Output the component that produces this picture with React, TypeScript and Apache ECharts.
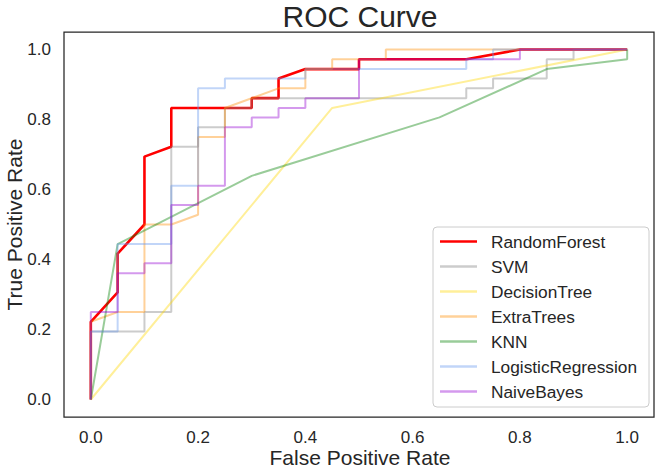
import React, { useEffect, useRef } from "react";
import * as echarts from "echarts";

// ROC data (FPR on x, TPR on y)
const rfFpr = [0, 0, 0.05, 0.05, 0.1, 0.1, 0.15, 0.15, 0.3, 0.3, 0.35, 0.35, 0.4, 0.5, 0.5, 0.7, 0.8, 1.0];
const rfTpr = [0, 0.222, 0.306, 0.417, 0.5, 0.694, 0.722, 0.833, 0.833, 0.861, 0.861, 0.917, 0.944, 0.944, 0.972, 0.972, 1.0, 1.0];

const svmFpr = [0, 0, 0.1, 0.1, 0.15, 0.15, 0.2, 0.2, 0.25, 0.25, 0.3, 0.3, 0.7, 0.7, 0.75, 0.75, 0.85, 0.85, 0.9, 0.9, 1.0];
const svmTpr = [0, 0.194, 0.194, 0.25, 0.25, 0.722, 0.722, 0.778, 0.778, 0.833, 0.833, 0.861, 0.861, 0.889, 0.889, 0.917, 0.917, 0.972, 0.972, 1.0, 1.0];

const dtFpr = [0, 0.45, 1.0];
const dtTpr = [0, 0.833, 1.0];

const etFpr = [0, 0, 0.05, 0.1, 0.1, 0.15, 0.2, 0.2, 0.25, 0.25, 0.35, 0.4, 0.4, 0.45, 0.45, 0.55, 0.55, 1.0];
const etTpr = [0, 0.222, 0.25, 0.25, 0.5, 0.5, 0.528, 0.75, 0.75, 0.833, 0.889, 0.889, 0.944, 0.944, 0.972, 0.972, 1.0, 1.0];

const knnFpr = [0, 0.05, 0.3, 0.65, 0.85, 1.0, 1.0];
const knnTpr = [0, 0.444, 0.639, 0.806, 0.944, 0.972, 1.0];

const lrFpr = [0, 0, 0.05, 0.05, 0.15, 0.15, 0.2, 0.2, 0.25, 0.25, 0.4, 0.4, 0.7, 0.7, 0.75, 0.75, 1.0];
const lrTpr = [0, 0.194, 0.194, 0.444, 0.444, 0.611, 0.611, 0.889, 0.889, 0.917, 0.917, 0.944, 0.944, 0.972, 0.972, 1.0, 1.0];

const nbFpr = [0, 0, 0.05, 0.05, 0.1, 0.1, 0.15, 0.15, 0.2, 0.2, 0.25, 0.25, 0.3, 0.3, 0.35, 0.35, 0.4, 0.4, 0.5, 0.5, 0.8, 0.8, 1.0];
const nbTpr = [0, 0.25, 0.25, 0.361, 0.361, 0.389, 0.389, 0.556, 0.556, 0.611, 0.611, 0.778, 0.778, 0.806, 0.806, 0.833, 0.833, 0.861, 0.861, 0.972, 0.972, 1.0, 1.0];

const modelNames = ["RandomForest", "SVM", "DecisionTree", "ExtraTrees", "KNN", "LogisticRegression", "NaiveBayes"];
const fprList = [rfFpr, svmFpr, dtFpr, etFpr, knnFpr, lrFpr, nbFpr];
const tprList = [rfTpr, svmTpr, dtTpr, etTpr, knnTpr, lrTpr, nbTpr];
const colors = [
  "rgba(255,0,0,1)",
  "rgba(128,128,128,0.4)",
  "rgba(255,215,0,0.4)",
  "rgba(255,140,0,0.4)",
  "rgba(0,128,0,0.4)",
  "rgba(100,149,237,0.4)",
  "rgba(148,0,211,0.4)",
];
const widths = [2.6, 2, 2, 2, 2, 2, 2];

const FONT = "'Liberation Sans', Arial, sans-serif";
const INK = "#262626";

export default function App() {
  const ref = useRef<HTMLDivElement>(null);

  useEffect(() => {
    document.body.style.margin = "0";
    if (!ref.current) return;
    const chart = echarts.init(ref.current, undefined, { renderer: "svg" });

    const fmt = (v: number) => {
      const r = Math.round(v * 100);
      if (r >= 0 && r <= 100 && r % 20 === 0) return (r / 100).toFixed(1);
      return "";
    };

    const series = modelNames.map((name, i) => ({
      name,
      type: "line",
      showSymbol: false,
      symbol: "none",
      data: fprList[i].map((x, j) => [x, tprList[i][j]]),
      lineStyle: { color: colors[i], width: widths[i] },
      itemStyle: { color: colors[i] },
      emphasis: { disabled: true },
      z: 2 + i,
    }));

    chart.setOption({
      animation: false,
      grid: {
        left: 64,
        right: 1.2,
        top: 32,
        bottom: 51,
        show: true,
        borderColor: INK,
        borderWidth: 1.25,
        backgroundColor: "#ffffff",
      },
      xAxis: {
        type: "value",
        min: -0.05,
        max: 1.05,
        interval: 0.05,
        axisLine: { show: false },
        axisTick: { show: false },
        splitLine: { show: false },
        axisLabel: {
          formatter: fmt,
          color: INK,
          fontSize: 17,
          fontFamily: FONT,
          margin: 12,
          showMinLabel: true,
          showMaxLabel: true,
        },
      },
      yAxis: {
        type: "value",
        min: -0.05,
        max: 1.05,
        interval: 0.05,
        axisLine: { show: false },
        axisTick: { show: false },
        splitLine: { show: false },
        axisLabel: {
          formatter: fmt,
          color: INK,
          fontSize: 17,
          fontFamily: FONT,
          margin: 13,
        },
      },
      legend: {
        orient: "vertical",
        left: 433,
        top: 227,
        data: modelNames.map((name, i) => ({
          name,
          icon: "rect",
          itemStyle: { color: colors[i], borderWidth: 0 },
        })),
        itemWidth: 37,
        itemHeight: 2.6,
        itemGap: 8,
        padding: [6, 12, 7, 7],
        backgroundColor: "rgba(255,255,255,0.8)",
        borderColor: "#cccccc",
        borderWidth: 1,
        borderRadius: 4,
        selectedMode: false,
        textStyle: {
          color: INK,
          fontSize: 17.3,
          fontFamily: FONT,
          lineHeight: 17,
          padding: [0, 0, 0, 9],
        },
      },
      graphic: [
        {
          type: "text",
          x: 360,
          y: 16,
          style: {
            text: "ROC Curve",
            fill: INK,
            fontSize: 30,
            fontFamily: FONT,
            textAlign: "center",
            textVerticalAlign: "middle",
          },
        },
        {
          type: "text",
          x: 360,
          y: 457,
          style: {
            text: "False Positive Rate",
            fill: INK,
            fontSize: 21,
            fontFamily: FONT,
            textAlign: "center",
            textVerticalAlign: "middle",
          },
        },
        {
          type: "text",
          x: 14,
          y: 224.5,
          rotation: Math.PI / 2,
          style: {
            text: "True Positive Rate",
            fill: INK,
            fontSize: 21,
            fontFamily: FONT,
            textAlign: "center",
            textVerticalAlign: "middle",
          },
        },
      ],
      series,
    });

    return () => chart.dispose();
  }, []);

  return (
    <div
      ref={ref}
      style={{ position: "absolute", left: 0, top: 0, width: 657, height: 468 }}
    />
  );
}
